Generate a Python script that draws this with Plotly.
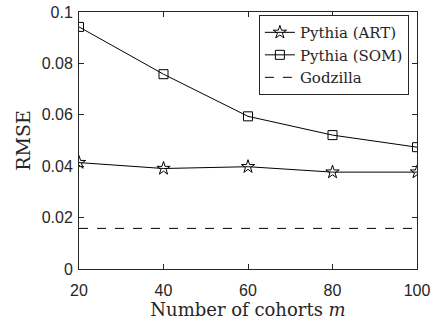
import plotly.graph_objects as go

cohorts = [20, 40, 60, 80, 100]
rmse_art = [0.0414, 0.0391, 0.0398, 0.0377, 0.0377]
rmse_som = [0.0942, 0.0758, 0.0594, 0.0521, 0.0474]
godzilla = 0.0158

serif = "DejaVu Serif"
sans = "Liberation Sans"
ink = "#262626"

fig = go.Figure()
fig.add_trace(go.Scatter(
    x=cohorts, y=rmse_art, mode="lines+markers", name="Pythia (ART)",
    line=dict(color="black", width=1),
    marker=dict(symbol="star-open", size=10, color="black", line=dict(width=1, color="black")),
))
fig.add_trace(go.Scatter(
    x=cohorts, y=rmse_som, mode="lines+markers", name="Pythia (SOM)",
    line=dict(color="black", width=1),
    marker=dict(symbol="square-open", size=9, color="black", line=dict(width=1, color="black")),
))
fig.add_trace(go.Scatter(
    x=[cohorts[0], cohorts[-1]], y=[godzilla, godzilla], mode="lines", name="Godzilla",
    line=dict(color="black", width=1, dash="dash"),
))

axis_common = dict(
    showline=True, linecolor=ink, linewidth=1, mirror="ticks",
    ticks="inside", ticklen=5, tickcolor=ink, showgrid=False, zeroline=False,
    tickfont=dict(family=sans, size=16, color=ink), automargin=False,
)

fig.update_layout(
    width=438, height=320,
    margin=dict(l=79, r=21, t=12, b=51),
    plot_bgcolor="white", paper_bgcolor="white",
    showlegend=True,
    legend=dict(
        x=0.976, y=0.988, xanchor="right", yanchor="top",
        bordercolor=ink, borderwidth=1, bgcolor="white",
        font=dict(family=serif, size=15, color=ink),
        tracegroupgap=0, itemwidth=30,
    ),
    xaxis=dict(
        range=[20, 100], tickvals=[20, 40, 60, 80, 100],
        ticklabelstandoff=7,
        title=dict(text="Number of cohorts <i>m</i>", font=dict(family=serif, size=18, color=ink), standoff=0),
        **axis_common,
    ),
    yaxis=dict(
        range=[0, 0.1], tickvals=[0, 0.02, 0.04, 0.06, 0.08, 0.1],
        ticktext=["0", "0.02", "0.04", "0.06", "0.08", "0.1"],
        ticklabelstandoff=2,
        title=dict(text="RMSE", font=dict(family=serif, size=19, color=ink), standoff=6),
        **axis_common,
    ),
)

fig.write_html("out.html")
